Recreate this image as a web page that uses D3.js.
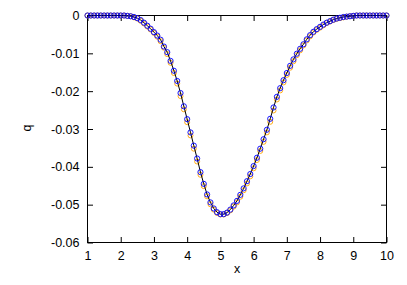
<!DOCTYPE html>
<html lang="en">
<head>
<meta charset="utf-8">
<title>q vs x</title>
<script src="https://d3js.org/d3.v7.min.js"></script>
<style>
  body { margin: 0; background: #fff; }
  text { font-family: "Liberation Sans", Arial, sans-serif; }
</style>
</head>
<body>
<div id="chart"></div>
<script>
// sample positions, x = 1.0 .. 10.0 in steps of 0.1
var xs = d3.range(91).map(function (i) { return +(1 + i / 10).toFixed(1); });

// blue circles (also the black line)
var qBlue = [
  0, 0, 0, 0, 0, 0, 0, 0, 0, 0,                                    // 1.0-1.9
  0, 0, -0.0001, -0.0002, -0.0004, -0.0007, -0.0012, -0.0019, -0.0027, -0.0035, // 2.0-2.9
  -0.0044, -0.0053, -0.0064, -0.0082, -0.0097, -0.0120, -0.0146, -0.0173, -0.0205, -0.0240, // 3.0-3.9
  -0.0274, -0.0309, -0.0344, -0.0378, -0.0414, -0.0445, -0.0473, -0.0494, -0.0510, -0.0520, // 4.0-4.9
  -0.0525, -0.0525, -0.0521, -0.0513, -0.0502, -0.0490, -0.0474, -0.0457, -0.0438, -0.0419, // 5.0-5.9
  -0.0398, -0.0376, -0.0352, -0.0327, -0.0302, -0.0273, -0.0243, -0.0215, -0.0192, -0.0171, // 6.0-6.9
  -0.0152, -0.0133, -0.0116, -0.0101, -0.0088, -0.0076, -0.0063, -0.0052, -0.0043, -0.0036, // 7.0-7.9
  -0.0030, -0.0024, -0.0019, -0.0015, -0.0011, -0.0008, -0.0006, -0.0004, -0.0003, -0.0002, // 8.0-8.9
  -0.0001, 0, 0, 0, 0, 0, 0, 0, 0, 0,                              // 9.0-9.9
  0                                                                // 10.0
];

// orange circles, mostly hidden under the blue ones
var qOrange = [
  0, 0, 0, 0, 0, 0, 0, 0, 0, 0,
  0, 0, -0.0001, -0.0002, -0.0005, -0.0008, -0.0014, -0.0021, -0.0029, -0.0037,
  -0.0046, -0.0056, -0.0068, -0.0085, -0.0102, -0.0125, -0.0152, -0.0180, -0.0213, -0.0248,
  -0.0282, -0.0317, -0.0352, -0.0386, -0.0421, -0.0451, -0.0478, -0.0499, -0.0513, -0.0522,
  -0.0526, -0.0526, -0.0522, -0.0515, -0.0505, -0.0494, -0.0479, -0.0462, -0.0444, -0.0425,
  -0.0404, -0.0382, -0.0358, -0.0334, -0.0309, -0.0281, -0.0251, -0.0222, -0.0198, -0.0177,
  -0.0157, -0.0138, -0.0121, -0.0105, -0.0092, -0.0079, -0.0066, -0.0055, -0.0045, -0.0038,
  -0.0032, -0.0026, -0.0020, -0.0016, -0.0012, -0.0009, -0.0007, -0.0005, -0.0003, -0.0002,
  -0.0001, 0, 0, 0, 0, 0, 0, 0, 0, 0,
  0
];

var xTicks = [1, 2, 3, 4, 5, 6, 7, 8, 9, 10];
var yTicks = [0, -0.01, -0.02, -0.03, -0.04, -0.05, -0.06];
var yTickLabels = ["0", "-0.01", "-0.02", "-0.03", "-0.04", "-0.05", "-0.06"];

var W = 407, H = 285;
// plot box edges (named so they do not clash with window.top)
var boxL = 87.5, boxR = 386.5, boxT = 15.5, boxB = 242.5;

var svg = d3.select("#chart").append("svg").attr("width", W).attr("height", H);

var x = d3.scaleLinear().domain([1, 10]).range([boxL, boxR]);
var y = d3.scaleLinear().domain([-0.06, 0]).range([boxB, boxT]);

var tickLen = 5.5;
var fontSize = "12.5px";

// axes, ticks inward, mirrored on top/right
var xAxis = svg.append("g").attr("transform", "translate(0," + boxB + ")")
  .call(d3.axisBottom(x).tickValues(xTicks).tickSizeInner(-tickLen).tickSizeOuter(0).tickPadding(9).tickFormat(d3.format("d")));
var xTop = svg.append("g").attr("transform", "translate(0," + boxT + ")")
  .call(d3.axisTop(x).tickValues(xTicks).tickSizeInner(-tickLen).tickSizeOuter(0).tickFormat(""));
var yAxis = svg.append("g").attr("transform", "translate(" + boxL + ",0)")
  .call(d3.axisLeft(y).tickValues(yTicks).tickSizeInner(-tickLen).tickSizeOuter(0).tickPadding(8)
    .tickFormat(function (d, i) { return yTickLabels[i]; }));
var yRight = svg.append("g").attr("transform", "translate(" + boxR + ",0)")
  .call(d3.axisRight(y).tickValues(yTicks).tickSizeInner(-tickLen).tickSizeOuter(0).tickFormat(""));

[xAxis, xTop, yAxis, yRight].forEach(function (g) {
  g.select(".domain").remove();
  g.selectAll("line").attr("stroke", "#000");
  g.selectAll("text").attr("fill", "#000").style("font-size", fontSize)
    .style("font-family", "'Liberation Sans', Arial, sans-serif");
});

// border
svg.append("rect").attr("x", boxL).attr("y", boxT)
  .attr("width", boxR - boxL).attr("height", boxB - boxT)
  .attr("fill", "none").attr("stroke", "#000").attr("stroke-width", 1);

// axis labels
svg.append("text").attr("x", (boxL + boxR) / 2).attr("y", 273)
  .attr("text-anchor", "middle").style("font-size", fontSize).text("x");
svg.append("text").attr("transform", "translate(31,128) rotate(-90)")
  .attr("text-anchor", "middle").style("font-size", fontSize).text("q");

var plot = svg.append("g");

// orange circles
plot.selectAll("circle.orange").data(xs).enter().append("circle")
  .attr("class", "orange")
  .attr("cx", function (d) { return x(d); })
  .attr("cy", function (d, i) { return y(qOrange[i]); })
  .attr("r", 2.5).attr("fill", "none").attr("stroke", "#ffa500").attr("stroke-width", 0.9);

// black line
var line = d3.line().x(function (d) { return x(d); }).y(function (d, i) { return y(qBlue[i]); });
plot.append("path").datum(xs).attr("d", line)
  .attr("fill", "none").attr("stroke", "#000").attr("stroke-width", 1);

// blue circles
plot.selectAll("circle.blue").data(xs).enter().append("circle")
  .attr("class", "blue")
  .attr("cx", function (d) { return x(d); })
  .attr("cy", function (d, i) { return y(qBlue[i]); })
  .attr("r", 2.6).attr("fill", "none").attr("stroke", "#0000ff").attr("stroke-width", 0.9);
</script>
</body>
</html>
